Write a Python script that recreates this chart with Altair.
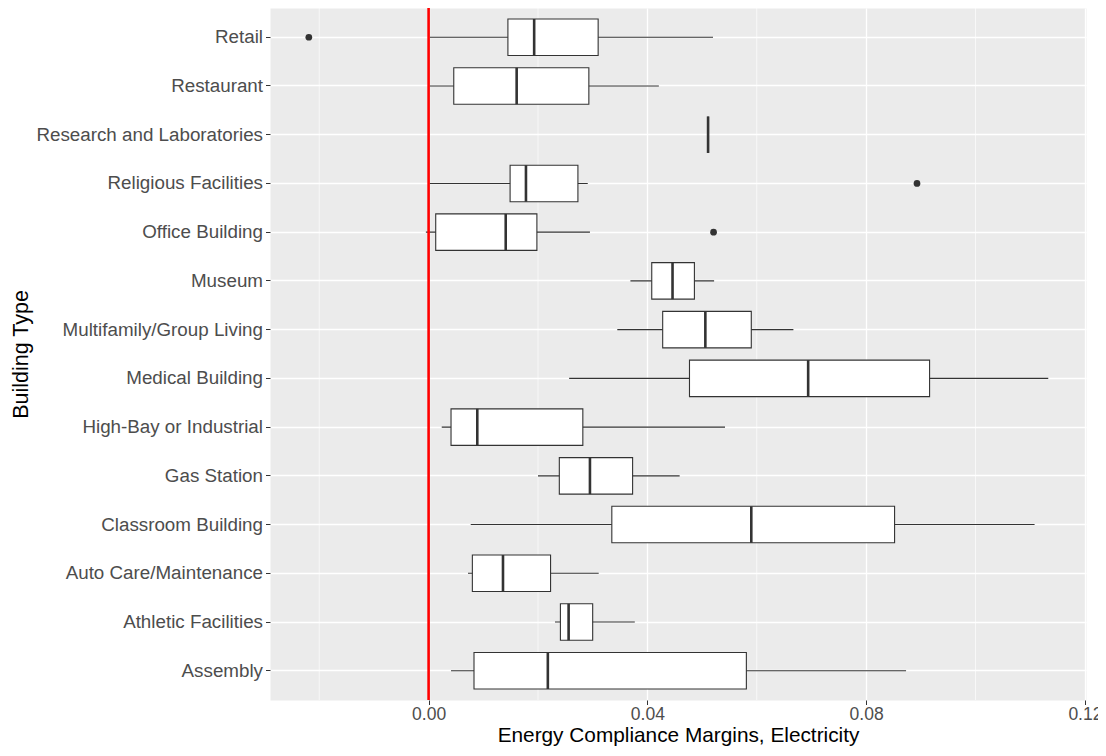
import altair as alt
import pandas as pd

categories = [
    "Retail", "Restaurant", "Research and Laboratories", "Religious Facilities",
    "Office Building", "Museum", "Multifamily/Group Living", "Medical Building",
    "High-Bay or Industrial", "Gas Station", "Classroom Building",
    "Auto Care/Maintenance", "Athletic Facilities", "Assembly",
]
lower = [0.0002, 0.0002, 0.0511, 0.0002, -0.0005, 0.0369, 0.0345, 0.0257,
         0.0024, 0.0200, 0.0077, 0.0072, 0.0231, 0.0041]
q1 = [0.0145, 0.0046, 0.0511, 0.0149, 0.0013, 0.0408, 0.0428, 0.0477,
      0.0041, 0.0239, 0.0335, 0.0080, 0.0241, 0.0083]
median = [0.0193, 0.0161, 0.0511, 0.0178, 0.0141, 0.0446, 0.0506, 0.0694,
          0.0089, 0.0295, 0.0590, 0.0136, 0.0256, 0.0218]
q3 = [0.0310, 0.0293, 0.0511, 0.0273, 0.0198, 0.0486, 0.0590, 0.0916,
      0.0282, 0.0373, 0.0852, 0.0223, 0.0300, 0.0581]
upper = [0.0520, 0.0421, 0.0511, 0.0291, 0.0295, 0.0522, 0.0667, 0.1133,
         0.0542, 0.0459, 0.1108, 0.0311, 0.0377, 0.0873]

outlier_types = ["Retail", "Religious Facilities", "Office Building"]
outlier_values = [-0.0219, 0.0893, 0.0521]

minor_grid = [-0.02, 0.02, 0.06, 0.10]
major_ticks = [0.00, 0.04, 0.08, 0.12]
reference_line = [0.0]

df = pd.DataFrame({"type": categories, "lower": lower, "q1": q1,
                   "median": median, "q3": q3, "upper": upper})
out_df = pd.DataFrame({"type": outlier_types, "value": outlier_values})
minor_df = pd.DataFrame({"x": minor_grid})
zero_df = pd.DataFrame({"x": reference_line})

FONT = "Liberation Sans"
INK = "#333333"

xscale = alt.Scale(domain=[-0.029, 0.1202], nice=False, zero=False)
xaxis = alt.Axis(
    values=major_ticks, format=".2f", grid=True, gridColor="white",
    gridWidth=1.3, domain=False, tickColor=INK, tickSize=4.5, tickWidth=1,
    labelFont=FONT, labelFontSize=17.5, labelColor="#4D4D4D", labelPadding=1,
    labelFlush=False, titleFont=FONT, titleFontSize=20.8, titleColor="black",
    titleFontWeight="normal", titleY=25,
)
yscale = alt.Scale(type="band", domain=categories, paddingInner=0, paddingOuter=0.1)
yaxis = alt.Axis(
    grid=True, gridColor="white", gridWidth=1.3, domain=False, tickColor=INK,
    tickSize=4.5, tickWidth=1, bandPosition=0.5, labelFont=FONT,
    labelFontSize=18.8, labelColor="#4D4D4D", labelPadding=3, labelLimit=0,
    titleFont=FONT, titleFontSize=21.5, titleColor="black",
    titleFontWeight="normal", titleX=-238, titleY=346,
)

def Y():
    return alt.Y("type:N", sort=categories, scale=yscale, axis=yaxis,
                 title="Building Type")

def X(field):
    return alt.X(field, scale=xscale, axis=xaxis,
                 title="Energy Compliance Margins, Electricity")

minor = alt.Chart(minor_df).mark_rule(color="white", strokeWidth=0.65).encode(
    x=X("x:Q"))

whiskers = alt.Chart(df).mark_rule(color=INK, strokeWidth=1.1).encode(
    x=X("lower:Q"), x2="upper:Q", y=Y())

boxes = alt.Chart(df).mark_bar(size=36.5, fill="white", stroke=INK,
                               strokeWidth=1.1).encode(
    x=X("q1:Q"), x2="q3:Q", y=Y())

medians = alt.Chart(df).mark_tick(color=INK, thickness=2.6, size=36.5,
                                  opacity=1).encode(
    x=X("median:Q"), y=Y())

outliers = alt.Chart(out_df).mark_circle(size=45, color=INK, opacity=1).encode(
    x=X("value:Q"), y=Y())

zero = alt.Chart(zero_df).mark_rule(color="#FF0000", strokeWidth=2.6).encode(
    x=X("x:Q"))

chart = alt.layer(minor, whiskers, boxes, medians, outliers, zero).properties(
    width=816, height=692,
    autosize=alt.AutoSizeParams(type="none"),
    padding={"left": 262, "top": 0, "right": 12, "bottom": 48},
    background="white",
).configure_view(fill="#EBEBEB", stroke="transparent")

chart.save("out.html", embed_options={"renderer": "svg", "actions": False})
